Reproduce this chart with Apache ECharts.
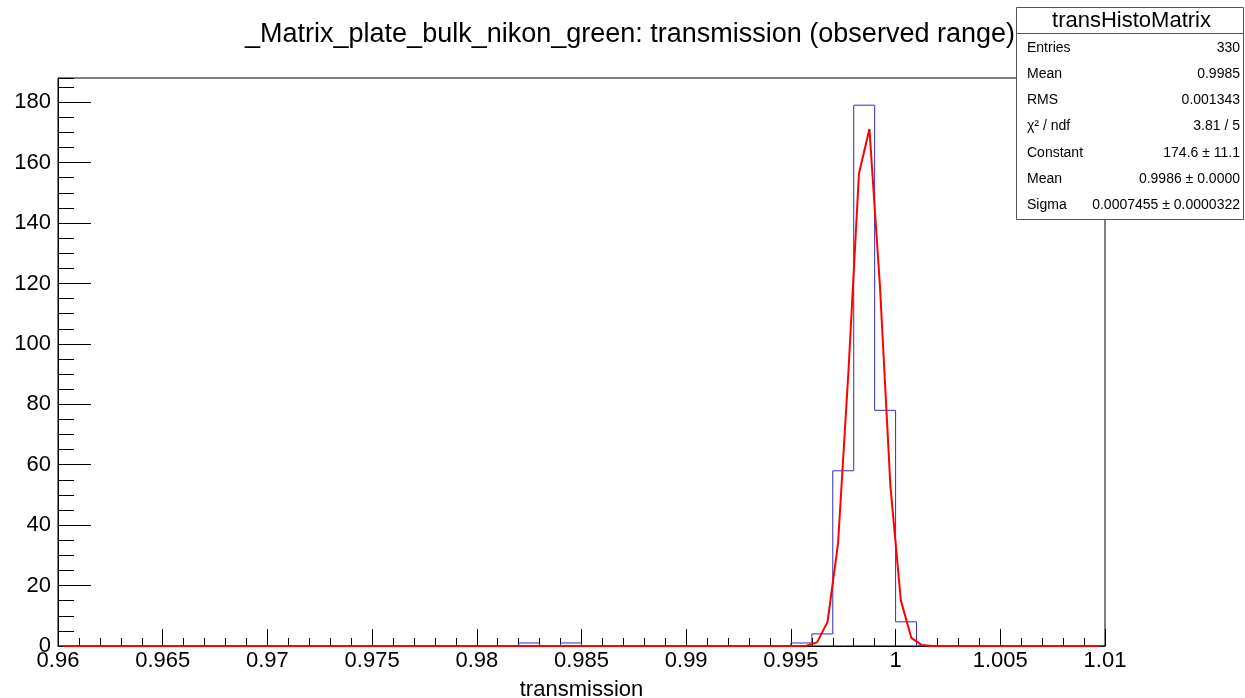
<!DOCTYPE html>
<html>
<head>
<meta charset="utf-8">
<script src="https://cdn.jsdelivr.net/npm/echarts@6/dist/echarts.min.js"></script>
<style>
  html, body { margin: 0; padding: 0; background: #fff; }
  #chart { width: 1245px; height: 698px; }
</style>
</head>
<body>
<div id="chart"></div>
<script>
// Histogram: 50 bins of width 0.001 from 0.96 to 1.01
const binStart = 0.96;
const binWidth = 0.001;
const binCounts = [
  0, 0, 0, 0, 0, 0, 0, 0, 0, 0,
  0, 0, 0, 0, 0, 0, 0, 0, 0, 0,
  0, 0, 1, 0, 1, 0, 0, 0, 0, 0,
  0, 0, 0, 0, 0, 1, 4, 58, 179, 78,
  8, 0, 0, 0, 0, 0, 0, 0, 0, 0
];

// Gaussian fit polyline vertices
const fitX = [0.96025, 0.99475, 0.99525, 0.99575, 0.99625, 0.99675, 0.99725, 0.99775,
              0.99825, 0.99875, 0.99925, 0.99975, 1.00025, 1.00075, 1.00125, 1.00175, 1.00975];
const fitY = [0, 0, 0, 0.1, 1.2, 8.0, 33.9, 91.1, 156.4, 171.1, 119.4, 53.1, 15.1, 2.7, 0.3, 0, 0];

// Statistics box
const statsTitle = 'transHistoMatrix';
const statsLabels = ['Entries', 'Mean', 'RMS', 'χ² / ndf', 'Constant', 'Mean', 'Sigma'];
const statsValues = ['330', '0.9985', '0.001343', '3.81 / 5', '174.6 ± 11.1', '0.9986 ± 0.0000', '0.0007455 ± 0.0000322'];

const chartTitle = '_Matrix_plate_bulk_nikon_green: transmission (observed range)';
const xName = 'transmission';

// Step outline of the histogram
const histLine = [[binStart, 0]];
binCounts.forEach((c, i) => {
  const lo = +(binStart + i * binWidth).toFixed(4);
  const hi = +(binStart + (i + 1) * binWidth).toFixed(4);
  histLine.push([lo, c], [hi, c]);
});
histLine.push([+(binStart + binCounts.length * binWidth).toFixed(4), 0]);

const fitLine = fitX.map((x, i) => [x, fitY[i]]);

const FONT = '"Liberation Sans", Arial, Helvetica, sans-serif';

const chart = echarts.init(document.getElementById('chart'), null, { renderer: 'canvas' });

const statsGraphics = [];
const boxX = 1016, boxY = 7, boxW = 227, boxH = 212;
statsGraphics.push({
  type: 'rect', z: 100,
  shape: { x: boxX + 0.5, y: boxY + 0.5, width: boxW, height: boxH },
  style: { fill: '#fff', stroke: '#555', lineWidth: 1 }
});
statsGraphics.push({
  type: 'line', z: 101,
  shape: { x1: boxX, y1: 33.5, x2: boxX + boxW, y2: 33.5 },
  style: { stroke: '#555', lineWidth: 1 }
});
statsGraphics.push({
  type: 'text', z: 101, x: boxX + boxW / 2 + 2, y: 21,
  style: { text: statsTitle, font: '22px ' + FONT, fill: '#000', align: 'center', verticalAlign: 'middle' }
});
const rowY = [48, 74, 100, 126, 153, 179, 205];
statsLabels.forEach((lab, i) => {
  statsGraphics.push({
    type: 'text', z: 101, x: 1027, y: rowY[i],
    style: { text: lab, font: '14px ' + FONT, fill: '#000', align: 'left', verticalAlign: 'middle' }
  });
  statsGraphics.push({
    type: 'text', z: 101, x: 1240, y: rowY[i],
    style: { text: statsValues[i], font: '14px ' + FONT, fill: '#000', align: 'right', verticalAlign: 'middle' }
  });
});

const option = {
  animation: false,
  backgroundColor: '#fff',
  title: {
    text: chartTitle,
    left: 625, top: 16,
    textAlign: 'center',
    textStyle: { fontFamily: FONT, fontSize: 27, fontWeight: 'normal', color: '#000' }
  },
  grid: {
    left: 58, right: 140, top: 78, bottom: 52,
    outerBoundsMode: 'none',
    show: true, borderColor: '#000', borderWidth: 1, backgroundColor: 'transparent'
  },
  xAxis: {
    type: 'value', min: 0.96, max: 1.01, interval: 0.005,
    name: xName, nameLocation: 'middle', nameGap: 33,
    nameTextStyle: { fontFamily: FONT, fontSize: 22, color: '#000' },
    axisLine: { show: true, onZero: false, lineStyle: { color: '#000', width: 1 } },
    axisTick: { show: true, inside: true, length: 17, lineStyle: { color: '#000', width: 1 } },
    minorTick: { show: true, splitNumber: 5, length: 8, lineStyle: { color: '#000', width: 1 } },
    splitLine: { show: false },
    axisLabel: {
      fontFamily: FONT, fontSize: 22, color: '#000', margin: 4,
      formatter: v => String(Math.round(v * 1000) / 1000)
    }
  },
  yAxis: [
    {
      type: 'value', min: 0, max: 188, interval: 20,
      axisLine: { show: true, onZero: false, lineStyle: { color: '#000', width: 1 } },
      axisTick: { show: true, inside: true, length: 33, lineStyle: { color: '#000', width: 1 } },
      splitLine: { show: false },
      axisLabel: {
        fontFamily: FONT, fontSize: 22, color: '#000', margin: 7,
        showMaxLabel: false,
        formatter: v => (v % 20 === 0 ? String(v) : '')
      }
    },
    {
      // minor tick marks every 5 units
      type: 'value', min: 0, max: 188, interval: 5, position: 'left',
      axisLine: { show: false },
      axisTick: { show: true, inside: true, length: 16, lineStyle: { color: '#000', width: 1 } },
      splitLine: { show: false },
      axisLabel: { show: false }
    }
  ],
  series: [
    {
      type: 'line', name: 'histogram', data: histLine, yAxisIndex: 0,
      showSymbol: false, symbol: 'none', z: 2,
      lineStyle: { color: '#3030b8', width: 1 }
    },
    {
      type: 'line', name: 'fit', data: fitLine, yAxisIndex: 0,
      showSymbol: false, symbol: 'none', z: 3,
      lineStyle: { color: '#ff0000', width: 2 }
    }
  ],
  graphic: statsGraphics
};

chart.setOption(option);
</script>
</body>
</html>
